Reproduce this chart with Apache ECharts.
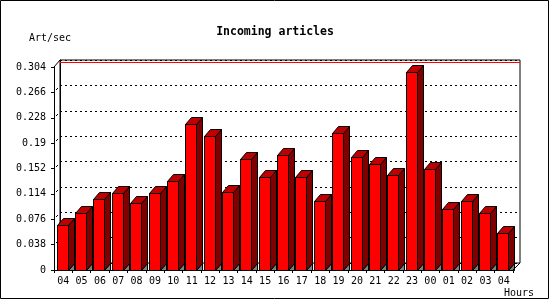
<!DOCTYPE html>
<html><head><meta charset="utf-8">
<script src="https://cdn.jsdelivr.net/npm/echarts@6/dist/echarts.min.js"></script>
<style>html,body{margin:0;padding:0;background:#fff}#c{width:550px;height:300px}</style>
</head><body><div id="c"></div>
<script>
const hours = ['04','05','06','07','08','09','10','11','12','13','14','15','16','17','18','19','20','21','22','23','00','01','02','03','04'];
const values = [0.067,0.085,0.107,0.116,0.101,0.116,0.134,0.218,0.200,0.117,0.166,0.139,0.172,0.140,0.104,0.205,0.169,0.158,0.142,0.297,0.151,0.091,0.103,0.085,0.055];
const yTickLabels = ['0','0.038','0.076','0.114','0.152','0.19','0.228','0.266','0.304'];
const yStep = 0.038, yMax = 0.304;
const maxVal = Math.max(...values);
const wallTicks = yTickLabels.map((t,i)=>i*yStep).filter((v,i)=>i>0 && i<yTickLabels.length-1);

const FONT = 'DejaVu Sans Mono';
const chart = echarts.init(document.getElementById('c'), null, {renderer:'canvas'});
const DX = 6, DY = 7;

function renderItem(params, api){
  const idx = api.value(0), v = api.value(1);
  const top = api.coord([idx, v]);
  const base = api.coord([idx, 0]);
  const bw = api.size([1,0])[0];
  const w = Math.round(bw*0.6);
  const x0 = Math.round(top[0] - bw*0.35) + 0.5;
  const yT = Math.round(top[1]) + 0.5;
  const yB = Math.round(base[1]) + 0.5;
  const st = {stroke:'#000', lineWidth:1};
  return {type:'group', children:[
    {type:'polygon', shape:{points:[[x0+w,yB],[x0+w+DX,yB-DY],[x0+w+DX,yB]]}, style:Object.assign({fill:'#808080'},st)},
    {type:'polygon', shape:{points:[[x0+w,yT],[x0+w+DX,yT-DY],[x0+w+DX,yB-DY],[x0+w,yB]]}, style:Object.assign({fill:'#800000'},st)},
    {type:'polygon', shape:{points:[[x0,yT],[x0+DX,yT-DY],[x0+w+DX,yT-DY],[x0+w,yT]]}, style:Object.assign({fill:'#c00000'},st)},
    {type:'rect', shape:{x:x0, y:yT, width:w, height:yB-yT}, style:Object.assign({fill:'#ff0000'},st)}
  ]};
}

function renderWall(params, api){
  const v = api.value(1);
  const p = api.coord([0, v]);
  const x = params.coordSys.x;
  const y = Math.round(p[1]);
  return {type:'line', shape:{x1:x+2, y1:y-2, x2:x+4, y2:y-4}, style:{stroke:'#000', lineWidth:1}};
}

const option = {
  animation:false,
  backgroundColor:'#fff',
  title:{text:'Incoming articles', left:'center', top:21, textStyle:{fontFamily:FONT, fontSize:11.5, fontWeight:'bold', color:'#000'}},
  grid:[
    {left:54, top:67, width:459, height:203, show:false},
    {left:60, top:60, width:460, height:203, show:true, borderColor:'#000', borderWidth:1, backgroundColor:'transparent'}
  ],
  xAxis:[
    {type:'category', gridIndex:0, data:hours, boundaryGap:true,
     axisLine:{show:true, lineStyle:{color:'#000', width:1}},
     axisTick:{show:true, length:3, lineStyle:{color:'#000'}},
     axisLabel:{interval:0, margin:6, fontFamily:FONT, fontSize:10, color:'#000'},
     splitLine:{show:false}},
    {type:'category', gridIndex:1, data:hours, show:false}
  ],
  yAxis:[
    {type:'value', gridIndex:0, min:0, max:yMax, interval:yStep,
     axisLine:{show:true, lineStyle:{color:'#000'}},
     axisTick:{show:true, length:3, lineStyle:{color:'#000'}},
     axisLabel:{margin:8, fontFamily:FONT, fontSize:10, color:'#000',
       formatter:(v)=>yTickLabels[Math.round(v/yStep)]},
     splitLine:{show:false}},
    {type:'value', gridIndex:1, min:0, max:yMax, interval:yStep,
     axisLine:{show:true, lineStyle:{color:'#000'}},
     axisTick:{show:false}, axisLabel:{show:false},
     splitLine:{show:true, lineStyle:{color:'#000', type:[2,3], width:1}}}
  ],
  series:[
    {type:'line', xAxisIndex:1, yAxisIndex:1, data:values, showSymbol:false, silent:true, z:1,
     lineStyle:{opacity:0},
     markLine:{silent:true, symbol:'none', label:{show:false}, lineStyle:{color:'#ff0000', type:'solid', width:1},
       data:[{yAxis:maxVal}]}},
    {type:'custom', xAxisIndex:0, yAxisIndex:0, z:3, silent:true,
     data: wallTicks.map(v=>[0,v]), renderItem:renderWall},
    {type:'custom', xAxisIndex:0, yAxisIndex:0, z:5,
     data: values.map((v,i)=>[i,v]), renderItem:renderItem}
  ],
  graphic:[
    {type:'rect', shape:{x:0.5,y:0.5,width:548,height:298}, style:{fill:null, stroke:'#000', lineWidth:1}, z:100},
    {type:'line', shape:{x1:54,y1:67,x2:60,y2:60}, style:{stroke:'#000', lineWidth:1}, z:10},
    {type:'line', shape:{x1:513,y1:270,x2:520,y2:263}, style:{stroke:'#000', lineWidth:1}, z:10},
    {type:'text', left:29, top:33, style:{text:'Art/sec', font:'10px "DejaVu Sans Mono"', fill:'#000'}},
    {type:'text', left:504, top:288, style:{text:'Hours', font:'10px "DejaVu Sans Mono"', fill:'#000'}}
  ]
};
chart.setOption(option);
</script></body></html>
